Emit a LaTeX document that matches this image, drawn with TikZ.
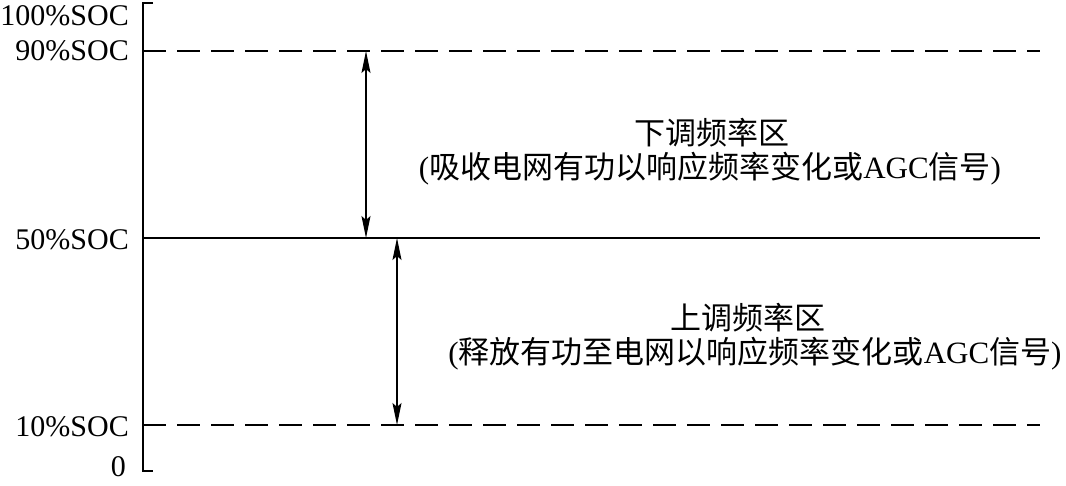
\documentclass[tikz,border=0pt]{standalone}
\usepackage{fontspec}
\setmainfont{Liberation Serif}
\newfontfamily\cjk{Noto Sans CJK SC}
\usetikzlibrary{arrows.meta}
\begin{document}
\begin{tikzpicture}[x=1pt,y=-1pt,
  ln/.style={line width=1.6pt},
  dsh/.style={line width=1.6pt,dash pattern=on 23pt off 11pt},
  lbl/.style={anchor=east,inner sep=0pt,font=\fontsize{30}{34}\selectfont},
  txt/.style={inner sep=0pt,font=\fontsize{31}{36}\selectfont},
  dbl/.style={line width=1.4pt,{Stealth[length=22pt,width=9pt,inset=4pt]}-{Stealth[length=22pt,width=9pt,inset=4pt]}}]
\useasboundingbox (0,0) rectangle (1066,485);
% axis
\coordinate (t0) at (153,3);
\coordinate (ttop) at (143,3);
\coordinate (tbot) at (143,471);
\coordinate (t1) at (153,471);
\draw[ln] (t0) -- (ttop) -- (tbot) -- (t1);
% levels
\coordinate (a90) at (143,51);
\coordinate (b90) at (1040,51);
\coordinate (a50) at (143,238);
\coordinate (b50) at (1040,238);
\coordinate (a10) at (143,425);
\coordinate (b10) at (1040,425);
\draw[dsh] (a90) -- (b90);
\draw[ln] (a50) -- (b50);
\draw[dsh] (a10) -- (b10);
% labels
\node[lbl] (l100) at (129,16) {100\%SOC};
\node[lbl] (l90) at (129,51) {90\%SOC};
\node[lbl] (l50) at (129,240) {50\%SOC};
\node[lbl] (l10) at (129,427) {10\%SOC};
\node[lbl] (l0) at (126,467) {0};
% arrows
\coordinate (p1) at (366,51);
\coordinate (q1) at (366,238);
\coordinate (p2) at (397,238);
\coordinate (q2) at (397,425);
\draw[dbl] (p1) -- (q1);
\draw[dbl] (p2) -- (q2);
% texts
\node[txt] (d1) at (712,133) {\cjk 下调频率区};
\node[txt] (d2) at (710,169) {(\cjk 吸收电网有功以响应频率变化或\rmfamily AGC\cjk 信号\rmfamily)};
\node[txt] (u1) at (748,318) {\cjk 上调频率区};
\node[txt] (u2) at (755,354) {(\cjk 释放有功至电网以响应频率变化或\rmfamily AGC\cjk 信号\rmfamily)};
\end{tikzpicture}
\end{document}
